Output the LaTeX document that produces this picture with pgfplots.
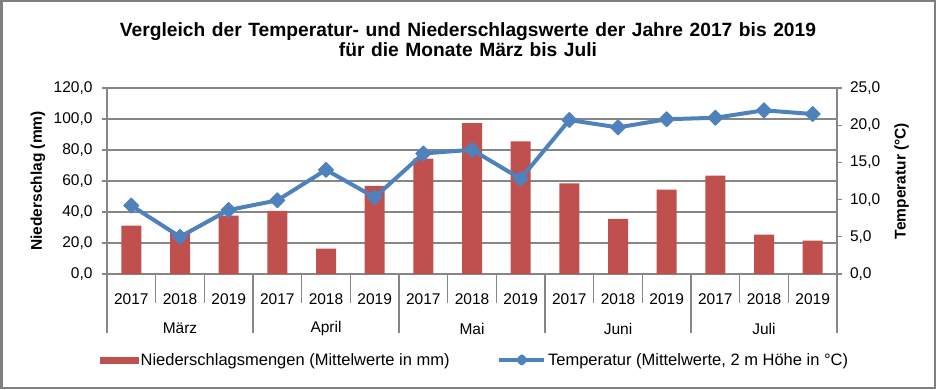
\documentclass[border=0pt]{standalone}
\usepackage{pgfplots}
\usepackage{pgfplotstable}
\pgfplotsset{compat=1.18}
\usepackage{fontspec}
\setmainfont{Liberation Sans}
\definecolor{barred}{HTML}{C0504D}
\definecolor{lineblue}{HTML}{4F81BD}
\definecolor{gridgray}{HTML}{868686}
\definecolor{framegray}{HTML}{7F7F7F}
\pgfplotstableread{
x year prec temp
0 2017 31.2 9.2
1 2018 26.3 5.0
2 2019 37.7 8.6
3 2017 40.7 9.9
4 2018 16.4 14.0
5 2019 56.9 10.3
6 2017 74.4 16.2
7 2018 97.4 16.7
8 2019 85.6 12.8
9 2017 58.4 20.7
10 2018 35.6 19.7
11 2019 54.5 20.8
12 2017 63.4 21.0
13 2018 25.4 22.0
14 2019 21.6 21.5
}\datatable
\pgfplotsset{
  common/.style={
    at={(107pt,115pt)}, anchor=south west, scale only axis,
    width=730pt, height=186pt,
    xmin=-0.5, xmax=14.5,
    /pgf/number format/assume math mode=true,
    /pgf/number format/fixed,
    /pgf/number format/fixed zerofill,
    /pgf/number format/precision=1,
    /pgf/number format/use comma,
    tick label style={font=\fontsize{15.5}{18}\selectfont},
    axis line style={gridgray, line width=1.3pt},
  },
  templeg/.style={legend image code/.code={\draw[lineblue, line width=3.5pt, mark=square*, mark size=2.8pt, mark options={rotate=45}, mark repeat=2, mark phase=2] plot coordinates {(0pt,0pt) (22.5pt,0pt) (45pt,0pt)};}},
  barleg/.style={legend image code/.code={\fill[barred] (0pt,-3pt) rectangle (38pt,3pt);}},
}
\newcommand{\titlefont}{\bfseries\fontsize{19.2}{23}\selectfont\spaceskip=6.6pt\relax}
\begin{document}
\begin{tikzpicture}
\useasboundingbox (0pt,0pt) rectangle (936pt,389pt);
\draw[framegray, line width=2.5pt] (1.25pt,1.25pt) rectangle (934.75pt,387.75pt);
\node[font=\titlefont, anchor=base] at (468pt,352.3pt) {Vergleich der Temperatur- und Niederschlagswerte der Jahre 2017 bis 2019};
\node[font=\titlefont, anchor=base] at (468pt,332.3pt) {für die Monate März bis Juli};
\begin{axis}[common,
  ymin=0, ymax=120, ytick={0,20,...,120},
  axis x line*=bottom, axis y line*=left,
  ymajorgrids, grid style={gridgray, line width=1.3pt},
  xtick={0,...,14},
  xticklabels={2017,2018,2019,2017,2018,2019,2017,2018,2019,2017,2018,2019,2017,2018,2019},
  xtick align=inside, ytick align=outside,
  major tick length=5pt,
  xtick style={draw=none},
  ytick style={gridgray, line width=1.3pt},
  xticklabel style={anchor=center, yshift=-20pt},
  extra x ticks={1,4,7,10,13},
  extra x tick labels={März,April,Mai,Juni,Juli},
  extra x tick style={xticklabel style={yshift=-29.5pt}},
  yticklabel style={xshift=-6pt},
  ylabel={Niederschlag (mm)},
  every axis y label/.style={at={(axis description cs:-0.0945,0.5)}, rotate=90, anchor=center,
    font=\bfseries\fontsize{15.5}{18}\selectfont},
  ybar, bar width=20pt,
]
\addplot[fill=barred, draw=none] table[x=x,y=prec]{\datatable};
\end{axis}
\begin{axis}[common,
  ymin=0, ymax=25, ytick={0,5,...,25},
  axis x line=none, axis y line*=right,
  ytick align=outside, major tick length=5pt,
  ytick style={gridgray, line width=1.3pt},
  yticklabel style={xshift=4.5pt},
  ylabel={Temperatur (°C)},
  every axis y label/.style={at={(axis description cs:1.0886,0.5)}, rotate=90, anchor=center,
    font=\bfseries\fontsize{15.5}{18}\selectfont},
  legend columns=2,
  legend style={at={(axis description cs:-0.0137,-0.462)}, anchor=west, draw=none, fill=none,
    font=\fontsize{16.5}{19}\selectfont,
    /tikz/every even column/.append style={column sep=46pt}},
]
\addlegendimage{barleg}
\addlegendentry{Niederschlagsmengen (Mittelwerte in mm)}
\addplot[lineblue, line width=4pt, line join=round, mark=square*, mark size=5.3pt,
  mark options={solid, rotate=45, line width=1pt}, templeg]
  table[x=x,y=temp]{\datatable};
\addlegendentry{Temperatur (Mittelwerte, 2 m Höhe in °C)}
\end{axis}
\foreach \k in {1,2,4,5,7,8,10,11,13,14} {
  \draw[gridgray, line width=1.3pt] ({(107+\k*730/15)*1pt},115pt) -- ++(0pt,-29pt);
}
\foreach \k in {0,3,6,9,12,15} {
  \draw[gridgray, line width=1.3pt] ({(107+\k*730/15)*1pt},115pt) -- ++(0pt,-59pt);
}
\end{tikzpicture}
\end{document}
